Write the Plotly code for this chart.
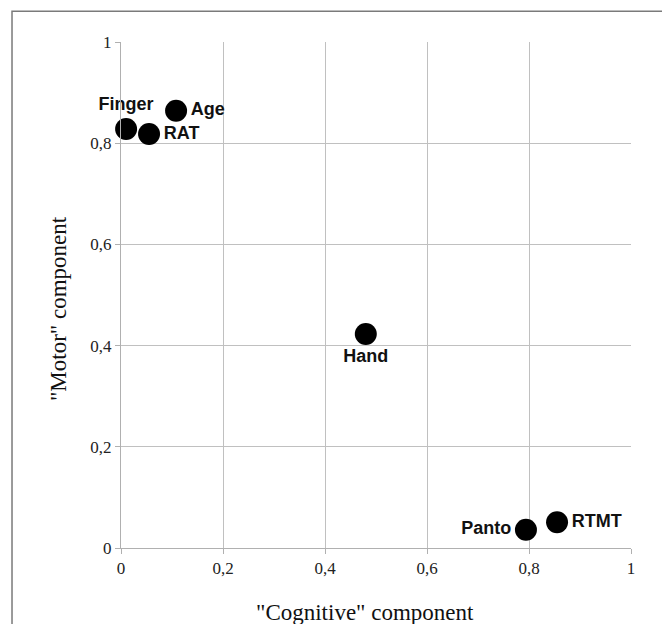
import plotly.graph_objects as go

names = ["Finger", "RAT", "Age", "Hand", "Panto", "RTMT"]
cognitive = [0.01, 0.055, 0.108, 0.48, 0.794, 0.855]
motor = [0.828, 0.818, 0.864, 0.423, 0.036, 0.051]
label_pos = ["top center", "middle right", "middle right", "bottom center", "middle left", "middle right"]

tick_vals = [0, 0.2, 0.4, 0.6, 0.8, 1]
tick_text = ["0", "0,2", "0,4", "0,6", "0,8", "1"]

x_title = '"Cognitive" component'
y_title = '"Motor" component'

fig = go.Figure()
fig.add_trace(go.Scatter(
    x=cognitive, y=motor, mode="markers+text",
    text=["<b>" + n + "</b>" for n in names],
    textposition=label_pos,
    textfont=dict(family="Liberation Sans, Arial", size=18, color="#111111"),
    marker=dict(size=22, color="black"),
    showlegend=False, cliponaxis=False,
))

axis_common = dict(
    range=[0, 1], tickvals=tick_vals, ticktext=tick_text,
    showgrid=True, gridcolor="#c0c0c0", gridwidth=1,
    showline=True, linecolor="#b0b0b0", linewidth=1,
    ticks="outside", ticklen=5, tickcolor="#b0b0b0",
    tickfont=dict(family="Liberation Serif, Times New Roman", size=17, color="#222222"),
    zeroline=False,
)

title_font = dict(family="Liberation Serif, Times New Roman", size=23, color="#111111")

fig.update_layout(
    width=670, height=624,
    margin=dict(l=113, r=47, t=34, b=84),
    paper_bgcolor="white", plot_bgcolor="white",
    xaxis=axis_common,
    yaxis=axis_common,
    annotations=[
        dict(text=x_title, xref="paper", yref="paper", x=0.478, y=-0.1265,
             xanchor="center", yanchor="middle", showarrow=False, font=title_font),
        dict(text=y_title, xref="paper", yref="paper", x=-0.1235, y=0.4723,
             xanchor="center", yanchor="middle", showarrow=False, textangle=-90,
             font=title_font),
    ],
    shapes=[dict(type="rect", xref="paper", yref="paper",
                 x0=-0.2137, x1=1.063, y0=-0.2, y1=1.061,
                 line=dict(color="#7a7a7a", width=1.5), layer="below")],
)

fig.write_html("out.html")
